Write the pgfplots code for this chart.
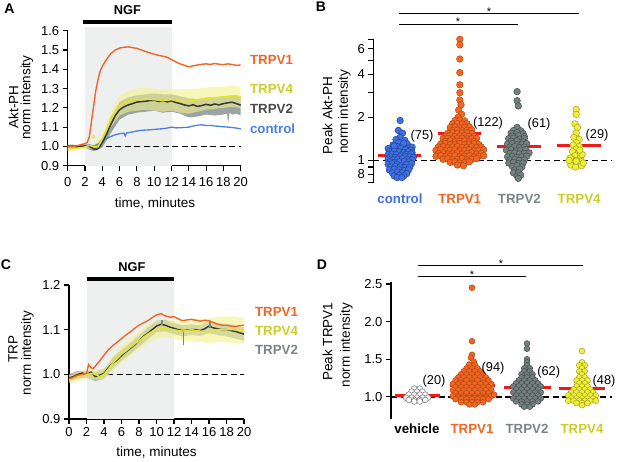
\documentclass[border=0pt]{standalone}
\usepackage{fontspec}
\setmainfont{Liberation Sans}
\usepackage{pgfplots}
\pgfplotsset{compat=1.18}
\definecolor{corange}{HTML}{F26522}
\definecolor{corangeE}{HTML}{B04A12}
\definecolor{cblue}{HTML}{4A80E6}
\definecolor{cblueF}{HTML}{3F70E0}
\definecolor{cblueE}{HTML}{23459E}
\definecolor{cgray}{HTML}{7A8585}
\definecolor{cgrayF}{HTML}{74807F}
\definecolor{cgrayE}{HTML}{45504F}
\definecolor{cdark}{HTML}{363636}
\definecolor{cyellow}{HTML}{E6E628}
\definecolor{cyellowF}{HTML}{F0F03A}
\definecolor{cyellowE}{HTML}{A3A31E}
\definecolor{cyellowT}{HTML}{CDCD2A}
\definecolor{cred}{HTML}{F01A1A}
\definecolor{cshade}{HTML}{EEF0F0}
\definecolor{cbandG}{HTML}{8C9494}
\definecolor{cbandY}{HTML}{F2F290}
\pgfplotsset{
  /pgf/number format/assume math mode=true,
  base/.style={scale only axis, anchor=south west, clip=false,
    axis line style={line width=1.3pt},
    tick style={line width=1.1pt, black},
    major tick length=5pt, tick align=outside,
    ticklabel style={font=\fontsize{13}{15}\selectfont}},
  tsax/.style={base, xmin=0, xmax=20, xtick={0,2,...,20},
    axis x line*=bottom, axis y line*=left,
    yticklabel style={/pgf/number format/.cd, fixed, fixed zerofill, precision=1}},
  bdash/.style={black, line width=1.6pt, dash pattern=on 6pt off 3.5pt},
  medl/.style={cred, line width=3pt},
}
\begin{document}
\begin{tikzpicture}[x=1pt,y=1pt]
\path[use as bounding box] (0,0) rectangle (617,462);
\coordinate (pA) at (67.7,296.3);
\coordinate (pB) at (373.3,279.3);
\coordinate (pC) at (69,43);
\coordinate (pD) at (391,42.5);

% ================= Panel A =================
\begin{axis}[tsax, at={(pA)}, width=173pt, height=135pt,
  ymin=0.9, ymax=1.6, ytick={0.9,1,1.1,1.2,1.3,1.4,1.5,1.6},
  xticklabel style={yshift=-3.5pt}]
\fill[cshade] (axis cs:2,0.9) rectangle (axis cs:12,1.62);
\draw[line width=4.5pt] (axis cs:1.75,1.645) -- (axis cs:12.1,1.645);
\addplot[bdash] coordinates {(0,1) (20,1)};
% TRPV2 band
\addplot[fill=cbandG, draw=none, fill opacity=0.85] coordinates {
(0,1.010) (1,1.008) (2,1.010) (3,1.000) (4,1.045) (5,1.155) (6,1.230) (7,1.255) (8,1.265) (9,1.270) (10,1.275) (11,1.270) (12,1.270) (13,1.260) (14,1.250) (15,1.245) (16,1.255) (17,1.255) (18,1.260) (19,1.265) (20,1.260)
(20,1.160) (19.5,1.170) (19,1.165) (18.7,1.175) (18.55,1.120) (18.4,1.170) (18,1.165) (17,1.160) (16,1.165) (15,1.155) (14,1.150) (13,1.170) (12,1.180) (11,1.175) (10,1.185) (9,1.180) (8,1.175) (7,1.165) (6,1.140) (5,1.070) (4,0.995) (3,0.975) (2,0.992) (1,0.990) (0,0.990)} -- cycle;
% TRPV4 band
\addplot[fill=cbandY, draw=none, fill opacity=0.6] coordinates {
(0,0.995) (1,1.000) (2,1.006) (3,1.012) (4,1.065) (5,1.180) (6,1.260) (7,1.290) (8,1.300) (9,1.305) (10,1.300) (11,1.295) (12,1.300) (13,1.295) (14,1.300) (15,1.300) (16,1.305) (17,1.310) (18,1.310) (19,1.315) (20,1.310)
(20,1.200) (19,1.205) (18,1.200) (17,1.195) (16,1.190) (15,1.180) (14,1.170) (13,1.175) (12,1.185) (11,1.180) (10,1.185) (9,1.190) (8,1.185) (7,1.180) (6,1.160) (5,1.100) (4,1.015) (3,0.990) (2,0.988) (1,0.980) (0,0.975)} -- cycle;
% control
\addplot[cblue, line width=1.3pt] coordinates {
(0,1.000) (0.5,0.998) (1,1.000) (1.5,1.002) (2,1.005) (2.5,1.008) (3,1.002) (3.5,1.010) (4,1.028) (4.5,1.040) (5,1.052) (5.5,1.060) (6,1.066) (6.5,1.069) (6.65,1.055) (6.8,1.070) (7,1.071) (7.5,1.075) (8,1.080) (8.5,1.083) (9,1.085) (9.5,1.086) (10,1.088) (10.5,1.090) (11,1.092) (11.5,1.095) (12,1.100) (12.5,1.096) (13,1.097) (13.5,1.098) (14,1.100) (14.5,1.106) (15,1.110) (15.5,1.112) (16,1.108) (16.5,1.109) (17,1.106) (17.5,1.104) (18,1.102) (18.5,1.100) (19,1.098) (19.5,1.095) (20,1.091)};
% TRPV2 mean
\addplot[cdark, line width=1.5pt] coordinates {
(0,1.000) (0.5,1.002) (1,0.998) (1.5,1.000) (2,1.002) (2.5,1.000) (3,0.988) (3.3,0.984) (3.6,0.992) (4,1.020) (4.5,1.065) (5,1.115) (5.5,1.160) (6,1.190) (6.5,1.205) (7,1.215) (7.5,1.222) (8,1.230) (8.5,1.232) (9,1.234) (9.5,1.238) (10,1.240) (10.5,1.233) (11,1.238) (11.5,1.231) (12,1.236) (12.5,1.228) (13,1.222) (13.5,1.215) (14,1.210) (14.5,1.216) (15,1.207) (15.5,1.212) (16,1.218) (16.5,1.213) (17,1.220) (17.5,1.215) (18,1.222) (18.5,1.226) (19,1.229) (19.5,1.222) (20,1.214)};
% TRPV4 mean
\addplot[cyellow, line width=1.4pt] coordinates {
(0,0.985) (0.5,0.988) (1,0.990) (1.5,0.993) (2,0.997) (2.5,1.005) (3,1.000) (3.5,0.998) (4,1.040) (4.5,1.090) (5,1.140) (5.5,1.180) (6,1.210) (6.5,1.225) (7,1.235) (7.5,1.238) (8,1.240) (8.5,1.243) (9,1.245) (9.5,1.244) (10,1.242) (10.5,1.240) (11,1.238) (11.5,1.240) (12,1.242) (12.5,1.238) (13,1.235) (13.5,1.232) (14,1.235) (14.5,1.238) (15,1.240) (15.5,1.245) (16,1.248) (16.5,1.250) (17,1.252) (17.5,1.255) (18,1.256) (18.5,1.258) (19,1.260) (19.5,1.262) (20,1.258)};
\addplot[only marks, mark=o, mark size=1.6pt, cyellow, line width=0.8pt] coordinates {(2.95,1.05)};
% TRPV1
\addplot[corange, line width=1.4pt] coordinates {
(0,1.000) (0.5,1.000) (1,1.003) (1.5,1.008) (2,1.015) (2.25,1.020) (2.5,1.050) (2.75,1.130) (3,1.210) (3.25,1.290) (3.5,1.345) (3.75,1.390) (4,1.415) (4.5,1.452) (5,1.482) (5.5,1.500) (6,1.510) (6.5,1.514) (7,1.516) (7.5,1.512) (8,1.508) (8.5,1.500) (9,1.492) (9.5,1.485) (10,1.478) (10.5,1.472) (11,1.468) (11.5,1.462) (12,1.450) (12.5,1.438) (13,1.428) (13.5,1.420) (14,1.412) (14.5,1.418) (15,1.422) (15.5,1.426) (16,1.428) (16.5,1.425) (17,1.430) (17.5,1.426) (18,1.424) (18.5,1.428) (19,1.425) (19.5,1.420) (20,1.422)};
\end{axis}

% ================= Panel C =================
\begin{axis}[tsax, at={(pC)}, width=175pt, height=134pt,
  ymin=0.9, ymax=1.2, ytick={0.9,1,1.1,1.2}]
\fill[cshade] (axis cs:2,0.9) rectangle (axis cs:12,1.208);
\draw[line width=4.5pt] (axis cs:2,1.213) -- (axis cs:12,1.213);
\addplot[bdash] coordinates {(0,1) (20,1)};
\addplot[fill=cbandG, draw=none, fill opacity=0.7] coordinates {
(0,1.000) (1,1.008) (2,1.008) (3,1.005) (4,1.012) (5,1.037) (6,1.055) (7,1.070) (8,1.088) (9,1.105) (10,1.120) (11,1.122) (12,1.115) (13,1.110) (14,1.112) (15,1.110) (16,1.120) (17,1.115) (18,1.113) (19,1.110) (20,1.105)
(20,1.075) (19,1.080) (18,1.085) (17,1.088) (16,1.092) (15,1.086) (14,1.088) (13,1.085) (12,1.090) (11,1.096) (10,1.094) (9,1.078) (8,1.062) (7,1.045) (6,1.030) (5,1.013) (4,0.990) (3,0.985) (2,0.993) (1,0.990) (0,0.985)} -- cycle;
\addplot[fill=cbandY, draw=none, fill opacity=0.6] coordinates {
(0,0.998) (1,1.005) (2,1.010) (3,1.012) (4,1.012) (5,1.042) (6,1.065) (7,1.080) (8,1.095) (9,1.110) (10,1.120) (11,1.123) (12,1.120) (13,1.120) (14,1.125) (15,1.125) (16,1.125) (17,1.128) (18,1.130) (19,1.130) (20,1.125)
(20,1.068) (19,1.070) (18,1.072) (17,1.072) (16,1.070) (15,1.072) (14,1.075) (13,1.075) (12,1.080) (11,1.083) (10,1.080) (9,1.070) (8,1.055) (7,1.040) (6,1.025) (5,1.008) (4,0.988) (3,0.988) (2,0.990) (1,0.985) (0,0.980)} -- cycle;
% TRPV2
\addplot[cdark, line width=1.4pt] coordinates {
(0,0.992) (0.5,0.995) (1,1.000) (1.5,1.003) (2,1.000) (2.5,1.005) (3,0.995) (3.5,0.998) (4,1.002) (4.5,1.015) (5,1.025) (5.5,1.032) (6,1.042) (6.5,1.050) (7,1.058) (7.5,1.066) (8,1.075) (8.5,1.085) (9,1.092) (9.5,1.100) (10,1.108) (10.5,1.112) (11,1.110) (11.5,1.106) (12,1.103) (12.5,1.100) (13,1.098) (13.5,1.099) (14,1.100) (14.5,1.100) (15,1.098) (15.5,1.102) (16,1.108) (16.5,1.104) (17,1.102) (17.5,1.100) (18,1.100) (18.5,1.098) (19,1.096) (19.5,1.093) (20,1.090)};
\addplot[cgray, line width=1.6pt] coordinates {(13.1,1.098) (13.1,1.065)};
\addplot[cgray, line width=1.6pt] coordinates {(16.1,1.104) (16.1,1.120)};
\addplot[cgray, line width=1.6pt] coordinates {(10.6,1.110) (10.6,1.122)};
% TRPV4
\addplot[cyellow, line width=1.4pt] coordinates {
(0,0.988) (0.5,0.990) (1,0.995) (1.5,0.998) (2,1.000) (2.5,1.002) (3,1.000) (3.5,0.995) (4,1.000) (4.5,1.012) (5,1.025) (5.5,1.035) (6,1.045) (6.5,1.052) (7,1.060) (7.5,1.068) (8,1.075) (8.5,1.083) (9,1.090) (9.5,1.096) (10,1.100) (10.5,1.102) (11,1.103) (11.5,1.101) (12,1.100) (12.5,1.098) (13,1.097) (13.5,1.098) (14,1.100) (14.5,1.098) (15,1.097) (15.5,1.096) (16,1.095) (16.5,1.097) (17,1.100) (17.5,1.100) (18,1.100) (18.5,1.100) (19,1.100) (19.5,1.098) (20,1.097)};
% TRPV1
\addplot[corange, line width=1.4pt] coordinates {
(0,0.990) (0.5,0.993) (1,0.998) (1.5,1.000) (2,1.002) (2.25,1.022) (2.5,1.015) (2.75,1.013) (3,1.018) (3.5,1.030) (4,1.043) (4.5,1.055) (5,1.064) (5.5,1.072) (6,1.080) (6.5,1.088) (7,1.095) (7.5,1.103) (8,1.110) (8.5,1.115) (9,1.120) (9.5,1.127) (10,1.133) (10.5,1.136) (11,1.131) (11.5,1.128) (12,1.129) (12.5,1.124) (13,1.120) (13.5,1.122) (14,1.123) (14.5,1.121) (15,1.119) (15.5,1.121) (16,1.120) (16.5,1.116) (17,1.112) (17.5,1.110) (18,1.110) (18.5,1.108) (19,1.107) (19.5,1.109) (20,1.110)};
\end{axis}

% ================= Panel B =================
\begin{axis}[base, at={(pB)}, width=238.7pt, height=143.4pt,
  xmin=0.55, xmax=4.55, ymode=log, ymin=0.7, ymax=7,
  hide x axis, axis y line*=left,
  ytick={0.7,0.8,0.9,1,2,3,4,5,6,7}, yticklabels={,8,,1,2,,4,,6,}]
\addplot[only marks, mark=*, mark size=3.3pt, mark options={fill=cblueF, draw=cblueE, line width=0.5pt}] coordinates {
(1.00,1.90) (0.97,1.62) (1.04,1.55) (1.00,1.45) (0.93,1.40) (1.08,1.38) (0.98,1.33) (1.12,1.30) (0.88,1.28) (1.04,1.27) (0.95,1.25) (1.15,1.22) (1.02,1.22) (0.85,1.20) (1.09,1.19) (0.92,1.17) (1.20,1.24) (1.06,1.32) (0.80,1.21) (1.18,1.18) (0.90,1.26)
(0.82,1.15) (0.90,1.16) (0.98,1.15) (1.06,1.14) (1.14,1.15) (1.20,1.13)
(0.80,1.10) (0.86,1.11) (0.94,1.10) (1.02,1.09) (1.10,1.10) (1.18,1.11)
(0.84,1.06) (0.92,1.05) (1.00,1.06) (1.08,1.07) (1.16,1.06) (1.22,1.05)
(0.80,1.02) (0.88,1.01) (0.96,1.02) (1.04,1.03) (1.12,1.02) (1.20,1.01)
(0.83,0.98) (0.91,0.97) (0.99,0.98) (1.07,0.99) (1.15,0.98)
(0.80,0.94) (0.87,0.95) (0.95,0.94) (1.03,0.93) (1.11,0.94) (1.19,0.95)
(0.84,0.90) (0.92,0.91) (1.00,0.90) (1.08,0.89) (1.16,0.90)
(0.82,0.86) (0.90,0.87) (0.98,0.86) (1.06,0.85) (1.14,0.86)
(0.87,0.82) (0.95,0.83) (1.03,0.82) (1.11,0.81)
(0.90,0.78) (0.98,0.79) (1.06,0.78)
(0.95,0.76) (1.03,0.76)};
\addplot[only marks, mark=*, mark size=3.3pt, mark options={fill=corange, draw=corangeE, line width=0.5pt}] coordinates {
(2.00,7.00) (2.00,6.40) (2.00,5.10) (2.00,4.10) (2.00,3.37) (2.00,2.97) (2.00,2.64) (2.02,2.44) (1.98,2.25) (2.03,2.10) (1.97,2.00)
(1.92,1.90) (2.00,1.91) (2.08,1.89)
(1.88,1.80) (1.96,1.81) (2.04,1.79) (2.12,1.80)
(1.84,1.70) (1.92,1.71) (2.00,1.69) (2.08,1.70) (2.16,1.71)
(1.88,1.62) (1.96,1.63) (2.04,1.61) (2.12,1.62) (2.20,1.63)
(1.80,1.55) (1.88,1.56) (1.96,1.54) (2.04,1.55) (2.12,1.56) (2.20,1.54)
(1.76,1.48) (1.84,1.49) (1.92,1.47) (2.00,1.48) (2.08,1.49) (2.16,1.47) (2.24,1.48)
(1.72,1.42) (1.80,1.43) (1.88,1.41) (1.96,1.42) (2.04,1.43) (2.12,1.41) (2.20,1.42) (2.28,1.43)
(1.76,1.36) (1.84,1.37) (1.92,1.35) (2.00,1.36) (2.08,1.37) (2.16,1.35) (2.24,1.36)
(1.68,1.30) (1.76,1.31) (1.84,1.29) (1.92,1.30) (2.00,1.31) (2.08,1.29) (2.16,1.30) (2.24,1.31) (2.32,1.29)
(1.64,1.24) (1.72,1.25) (1.80,1.23) (1.88,1.24) (1.96,1.25) (2.04,1.23) (2.12,1.24) (2.20,1.25) (2.28,1.23) (2.36,1.24)
(1.60,1.18) (1.68,1.19) (1.76,1.17) (1.84,1.18) (1.92,1.19) (2.00,1.17) (2.08,1.18) (2.16,1.19) (2.24,1.17) (2.32,1.18) (2.40,1.19)
(1.64,1.12) (1.72,1.13) (1.80,1.11) (1.88,1.12) (1.96,1.13) (2.04,1.11) (2.12,1.12) (2.20,1.13) (2.28,1.11) (2.36,1.12)
(1.60,1.07) (1.68,1.08) (1.76,1.06) (1.84,1.07) (1.92,1.08) (2.00,1.06) (2.08,1.07) (2.16,1.08) (2.24,1.06) (2.32,1.07) (2.40,1.08)
(1.72,1.02) (1.80,1.03) (1.88,1.01) (1.96,1.02) (2.04,1.03) (2.12,1.01) (2.20,1.02) (2.28,1.03)
(1.84,0.97) (1.92,0.98) (2.00,0.96) (2.08,0.97) (2.16,0.98)
(1.96,0.93) (2.06,0.92)};
\addplot[only marks, mark=*, mark size=3.3pt, mark options={fill=cgrayF, draw=cgrayE, line width=0.5pt}] coordinates {
(2.96,3.02) (2.96,2.61) (2.98,2.40) (2.96,1.70)
(2.90,1.62) (3.02,1.61)
(2.86,1.55) (2.96,1.56) (3.06,1.54)
(2.88,1.48) (2.98,1.49) (3.08,1.47)
(2.82,1.42) (2.90,1.43) (3.00,1.41) (3.08,1.42)
(2.86,1.36) (2.96,1.37) (3.06,1.35)
(2.80,1.30) (2.88,1.31) (2.96,1.29) (3.04,1.30) (3.12,1.31)
(2.84,1.24) (2.92,1.25) (3.00,1.23) (3.08,1.24)
(2.78,1.18) (2.86,1.19) (2.94,1.17) (3.02,1.18) (3.10,1.19)
(2.84,1.12) (2.92,1.13) (3.00,1.11) (3.08,1.12) (3.16,1.13)
(2.80,1.06) (2.88,1.07) (2.96,1.05) (3.04,1.06) (3.12,1.07)
(2.84,1.01) (2.92,1.02) (3.00,1.00) (3.08,1.01)
(2.82,0.96) (2.90,0.97) (2.98,0.95) (3.06,0.96)
(2.88,0.91) (2.96,0.92) (3.04,0.90)
(2.92,0.86) (3.00,0.87)
(2.90,0.82) (2.98,0.82)
(2.96,0.78) (3.02,0.79)
(2.98,0.75)};
\addplot[only marks, mark=*, mark size=3.3pt, mark options={fill=cyellowF, draw=cyellowE, line width=0.5pt}] coordinates {
(3.95,2.27) (3.95,2.10) (3.93,1.80) (3.97,1.70) (3.95,1.55) (3.91,1.45) (4.00,1.40) (3.95,1.33) (3.90,1.28) (4.00,1.25) (3.95,1.20) (3.89,1.15) (3.99,1.12) (3.93,1.08) (4.02,1.05) (3.88,1.02) (3.96,1.00) (4.04,0.98) (3.90,0.97) (3.98,0.95) (3.86,0.93) (4.04,0.92) (3.94,0.90) (3.85,1.04) (4.05,1.10) (4.01,1.18) (4.07,0.96) (3.83,1.00) (3.95,0.99)};
\addplot[bdash] coordinates {(0.55,1) (4.55,1)};
\addplot[medl] coordinates {(0.63,1.085) (1.35,1.085)};
\addplot[medl] coordinates {(1.63,1.545) (2.36,1.545)};
\addplot[medl] coordinates {(2.63,1.245) (3.36,1.245)};
\addplot[medl] coordinates {(3.63,1.28) (4.36,1.28)};
\end{axis}

% ================= Panel D =================
\begin{axis}[base, at={(pD)}, width=221pt, height=137pt,
  xmin=0.527, xmax=4.545, ymin=0.7, ymax=2.52,
  hide x axis, axis y line*=left,
  ytick={1,1.5,2,2.5},
  yticklabel style={/pgf/number format/.cd, fixed, fixed zerofill, precision=1}]
\addplot[only marks, mark=*, mark size=2.9pt, mark options={fill=white, draw=gray, line width=0.6pt}] coordinates {
(0.95,1.11) (1.05,1.11)
(0.90,1.07) (1.00,1.07) (1.10,1.07)
(0.85,1.03) (0.95,1.03) (1.05,1.03) (1.15,1.03)
(0.80,0.99) (0.90,0.99) (1.00,0.99) (1.10,0.99) (1.20,0.99)
(0.85,0.96) (0.95,0.96) (1.05,0.96) (1.15,0.96)
(0.95,0.94) (1.05,0.94)};
\addplot[only marks, mark=*, mark size=2.9pt, mark options={fill=corange, draw=corangeE, line width=0.5pt}] coordinates {
(2.00,2.45) (2.00,1.74) (2.00,1.56) (1.98,1.52) (2.03,1.47) (1.95,1.43) (2.05,1.43)
(1.90,1.38) (2.00,1.38) (2.10,1.38)
(1.85,1.34) (1.95,1.34) (2.05,1.34) (2.15,1.34)
(1.80,1.30) (1.90,1.30) (2.00,1.30) (2.10,1.30) (2.20,1.30)
(1.75,1.26) (1.85,1.26) (1.95,1.26) (2.05,1.26) (2.15,1.26) (2.25,1.26)
(1.70,1.22) (1.80,1.22) (1.90,1.22) (2.00,1.22) (2.10,1.22) (2.20,1.22) (2.30,1.22)
(1.80,1.19) (2.00,1.19) (2.20,1.19)
(1.65,1.17) (1.75,1.17) (1.85,1.17) (1.95,1.17) (2.05,1.17) (2.15,1.17) (2.25,1.17) (2.35,1.17)
(1.70,1.13) (1.80,1.13) (1.90,1.13) (2.00,1.13) (2.10,1.13) (2.20,1.13) (2.30,1.13)
(1.65,1.09) (1.75,1.09) (1.85,1.09) (1.95,1.09) (2.05,1.09) (2.15,1.09) (2.25,1.09) (2.35,1.09)
(1.70,1.05) (1.80,1.05) (1.90,1.05) (2.00,1.05) (2.10,1.05) (2.20,1.05) (2.30,1.05)
(1.65,1.01) (1.75,1.01) (1.85,1.01) (1.95,1.01) (2.05,1.01) (2.15,1.01) (2.25,1.01) (2.35,1.01)
(1.75,0.99) (1.85,0.99) (1.95,0.99) (2.05,0.99) (2.15,0.99) (2.25,0.99)
(1.70,0.97) (1.80,0.97) (1.90,0.97) (2.00,0.97) (2.10,0.97) (2.20,0.97) (2.30,0.97)
(1.80,0.93) (1.90,0.93) (2.00,0.93) (2.10,0.93) (2.20,0.93)
(1.95,0.90) (2.05,0.90) (2.40,1.03)};
\addplot[only marks, mark=*, mark size=2.9pt, mark options={fill=cgrayF, draw=cgrayE, line width=0.5pt}] coordinates {
(3.00,1.71) (3.00,1.64) (3.00,1.50) (3.00,1.46) (3.00,1.42) (2.95,1.38) (3.05,1.38) (2.95,1.34) (3.05,1.34)
(2.90,1.30) (3.00,1.30) (3.10,1.30)
(2.90,1.26) (3.00,1.26) (3.10,1.26)
(2.85,1.22) (2.95,1.22) (3.05,1.22) (3.15,1.22)
(2.80,1.18) (2.90,1.18) (3.00,1.18) (3.10,1.18) (3.20,1.18)
(2.75,1.14) (2.85,1.14) (2.95,1.14) (3.05,1.14) (3.15,1.14) (3.25,1.14)
(2.80,1.10) (2.90,1.10) (3.00,1.10) (3.10,1.10) (3.20,1.10)
(2.75,1.06) (2.85,1.06) (2.95,1.06) (3.05,1.06) (3.15,1.06) (3.25,1.06)
(2.80,1.02) (2.90,1.02) (3.00,1.02) (3.10,1.02) (3.20,1.02)
(2.75,0.98) (2.85,0.98) (2.95,0.98) (3.05,0.98) (3.15,0.98) (3.25,0.98)
(2.80,0.94) (2.90,0.94) (3.00,0.94) (3.10,0.94) (3.20,0.94)
(2.90,0.90) (3.00,0.90) (3.10,0.90)
(2.95,0.87) (3.05,0.87)};
\addplot[only marks, mark=*, mark size=2.9pt, mark options={fill=cyellowF, draw=cyellowE, line width=0.5pt}] coordinates {
(4.00,1.61) (4.00,1.46) (3.95,1.42) (4.05,1.42) (4.00,1.38) (3.95,1.34) (4.05,1.34) (4.00,1.30) (3.95,1.26) (4.05,1.26)
(3.90,1.22) (4.00,1.22) (4.10,1.22)
(3.95,1.18) (4.05,1.18)
(3.90,1.14) (4.00,1.14) (4.10,1.14)
(3.85,1.10) (3.95,1.10) (4.05,1.10) (4.15,1.10)
(3.80,1.06) (3.90,1.06) (4.00,1.06) (4.10,1.06) (4.20,1.06)
(3.75,1.02) (3.85,1.02) (3.95,1.02) (4.05,1.02) (4.15,1.02) (4.25,1.02)
(3.80,0.98) (3.90,0.98) (4.00,0.98) (4.10,0.98) (4.20,0.98)
(3.75,0.95) (3.85,0.95) (3.95,0.95) (4.05,0.95) (4.15,0.95) (4.25,0.95)
(3.90,0.92) (4.00,0.92) (4.10,0.92)
(4.00,0.89)};
\addplot[bdash] coordinates {(0.527,1) (4.545,1)};
\addplot[medl] coordinates {(0.60,1.025) (1.42,1.025)};
\addplot[medl] coordinates {(1.60,1.15) (2.42,1.15)};
\addplot[medl] coordinates {(2.58,1.125) (3.43,1.125)};
\addplot[medl] coordinates {(3.58,1.108) (4.42,1.108)};
\end{axis}

% ================= Text =================
\def\lab{\fontsize{13.5}{16}\selectfont}
\def\clab{\fontsize{12.8}{15}\selectfont}
\def\slab{\fontsize{13.3}{15}\selectfont}
\node[font=\bfseries\fontsize{14}{16}\selectfont] at (9.5,453.5) {A};
\node[font=\bfseries\fontsize{14}{16}\selectfont] at (321,455) {B};
\node[font=\bfseries\fontsize{14}{16}\selectfont] at (6,197) {C};
\node[font=\bfseries\fontsize{14}{16}\selectfont] at (322,197) {D};
\node[font=\bfseries\clab] at (127.5,452) {NGF};
\node[font=\bfseries\clab] at (132,195) {NGF};
% panel A labels
\node[rotate=90, font=\lab] at (13.5,355) {Akt-PH};
\node[rotate=90, font=\lab] at (27,364.5) {norm intensity};
\node[anchor=base, font=\lab] at (155,254) {time, minutes};
\node[anchor=base west, font=\bfseries\slab, text=corange] at (246.5,397) {TRPV1};
\node[anchor=base west, font=\bfseries\slab, text=cyellowT] at (246.5,368.7) {TRPV4};
\node[anchor=base west, font=\bfseries\slab, text=cdark!90] at (246.5,348.7) {TRPV2};
\node[anchor=base west, font=\bfseries\slab, text=cblue] at (246.5,328.7) {control};
% panel C labels
\node[rotate=90, font=\lab] at (13,113) {TRP};
\node[rotate=90, font=\lab] at (27.5,109) {norm intensity};
\node[anchor=base, font=\lab] at (156.5,5) {time, minutes};
\node[anchor=base west, font=\bfseries\slab, text=corange] at (251.5,145) {TRPV1};
\node[anchor=base west, font=\bfseries\slab, text=cyellowT] at (251.5,126) {TRPV4};
\node[anchor=base west, font=\bfseries\slab, text=cgray] at (251.5,107) {TRPV2};
% panel B labels
\node[rotate=90, font=\lab] at (327.5,346.2) {Peak Akt-PH};
\node[rotate=90, font=\lab] at (344.3,350.3) {norm intensity};
\node[anchor=base, font=\bfseries\slab, text=cblueF] at (400,258) {control};
\node[anchor=base, font=\bfseries\slab, text=corange] at (459.7,258) {TRPV1};
\node[anchor=base, font=\bfseries\slab, text=cgray] at (519.4,258) {TRPV2};
\node[anchor=base, font=\bfseries\slab, text=cyellowT] at (579.1,258) {TRPV4};
\node[font=\clab] at (422,326) {(75)};
\node[font=\clab] at (488,339) {(122)};
\node[font=\clab] at (539,338) {(61)};
\node[font=\clab] at (597,327) {(29)};
\draw[line width=0.9pt] (399,448.3) -- (579,448.3);
\draw[line width=0.9pt] (399,438) -- (518,438);
\node[anchor=base, font=\fontsize{11}{12}\selectfont, inner sep=0pt] at (489,446.2) {*};
\node[anchor=base, font=\fontsize{11}{12}\selectfont, inner sep=0pt] at (458,436.7) {*};
% panel D labels
\node[rotate=90, font=\lab] at (327.5,120.3) {Peak TRPV1};
\node[rotate=90, font=\lab] at (346.3,117) {norm intensity};
\node[anchor=base, font=\bfseries\slab] at (417,28) {vehicle};
\node[anchor=base, font=\bfseries\slab, text=corange] at (472,28) {TRPV1};
\node[anchor=base, font=\bfseries\slab, text=cgray] at (527,28) {TRPV2};
\node[anchor=base, font=\bfseries\slab, text=cyellowT] at (582,28) {TRPV4};
\node[font=\clab] at (434,81) {(20)};
\node[font=\clab] at (493,94) {(94)};
\node[font=\clab] at (548.7,89.5) {(62)};
\node[font=\clab] at (604,81) {(48)};
\draw[line width=0.9pt] (418,197) -- (583,197);
\draw[line width=0.9pt] (418,186) -- (526,186);
\node[anchor=base, font=\fontsize{11}{12}\selectfont, inner sep=0pt] at (501,194) {*};
\node[anchor=base, font=\fontsize{11}{12}\selectfont, inner sep=0pt] at (472,183) {*};
\end{tikzpicture}
\end{document}
